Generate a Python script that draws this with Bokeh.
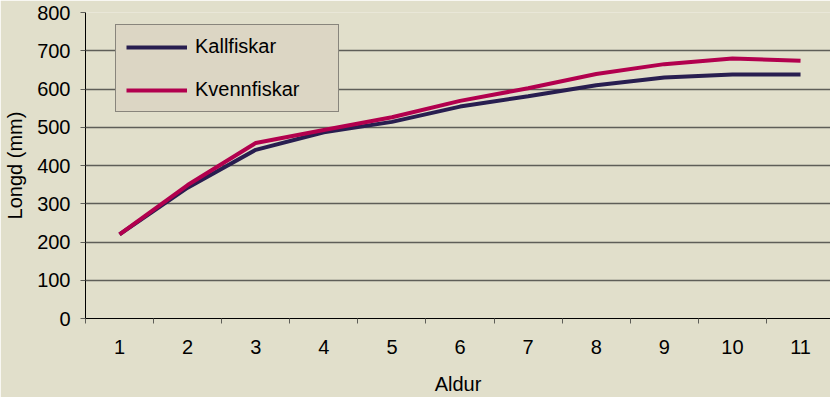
from bokeh.plotting import figure
from bokeh.models import Range1d, FixedTicker, Legend, LegendItem
from bokeh.embed import file_html
from bokeh.resources import INLINE

ages = [1, 2, 3, 4, 5, 6, 7, 8, 9, 10, 11]
kallfiskar = [220, 342, 441, 487, 514, 554, 581, 610, 630, 638, 638]
kvennfiskar = [220, 349, 459, 493, 526, 569, 602, 639, 665, 680, 674]
y_ticks = [0, 100, 200, 300, 400, 500, 600, 700, 800]

BG = "#E1DFCB"
FONT = "Liberation Sans"

p = figure(width=830, height=397, output_backend="svg", toolbar_location=None,
           x_range=Range1d(0.5, 11.44), y_range=Range1d(0, 800),
           min_border_left=85, min_border_right=0, min_border_top=12, min_border_bottom=79)
p.background_fill_color = BG
p.border_fill_color = BG
p.outline_line_color = None

r1 = p.line(ages, kallfiskar, line_color="#281E50", line_width=4)
r2 = p.line(ages, kvennfiskar, line_color="#B2004E", line_width=4)

p.xgrid.visible = False
p.ygrid.grid_line_color = "#5E5E58"
p.ygrid.grid_line_width = 1.5
p.ygrid.ticker = FixedTicker(ticks=y_ticks)

# x axis
p.xaxis.ticker = FixedTicker(ticks=ages, minor_ticks=[a - 0.5 for a in ages] + [11.5])
p.xaxis.major_tick_out = 0
p.xaxis.major_tick_in = 0
p.xaxis.minor_tick_out = 5
p.xaxis.minor_tick_in = 0
p.xaxis.minor_tick_line_color = "#5E5E58"
p.xaxis.axis_line_color = "black"
p.xaxis.major_label_text_font = FONT
p.xaxis.major_label_text_font_size = "20px"
p.xaxis.major_label_text_color = "black"
p.xaxis.major_label_standoff = 16
p.xaxis.axis_label = "Aldur"
p.xaxis.axis_label_text_font = FONT
p.xaxis.axis_label_text_font_size = "20px"
p.xaxis.axis_label_text_font_style = "normal"
p.xaxis.axis_label_text_color = "black"
p.xaxis.axis_label_standoff = 16

# y axis
p.yaxis.ticker = FixedTicker(ticks=y_ticks)
p.yaxis.minor_tick_line_color = None
p.yaxis.major_tick_out = 5
p.yaxis.major_tick_in = 0
p.yaxis.major_tick_line_color = "#5E5E58"
p.yaxis.axis_line_color = "black"
p.yaxis.major_label_text_font = FONT
p.yaxis.major_label_text_font_size = "20px"
p.yaxis.major_label_text_color = "black"
p.yaxis.major_label_standoff = 10
p.yaxis.axis_label = "Longd (mm)"
p.yaxis.axis_label_text_font = FONT
p.yaxis.axis_label_text_font_size = "20px"
p.yaxis.axis_label_text_font_style = "normal"
p.yaxis.axis_label_text_color = "black"
p.yaxis.axis_label_standoff = 8

legend = Legend(items=[LegendItem(label="Kallfiskar", renderers=[r1]),
                       LegendItem(label="Kvennfiskar", renderers=[r2])],
                location=(30, 206))
legend.background_fill_color = "#DCD6C4"
legend.background_fill_alpha = 1
legend.border_line_color = "#333333"
legend.border_line_width = 1
legend.padding = 10
legend.margin = 0
legend.spacing = 20
legend.glyph_width = 61
legend.glyph_height = 20
legend.label_height = 20
legend.label_width = 133
legend.label_standoff = 8
legend.label_text_font = FONT
legend.label_text_font_size = "20px"
legend.label_text_color = "black"
p.add_layout(legend)

open("out.html", "w").write(file_html(p, INLINE))
